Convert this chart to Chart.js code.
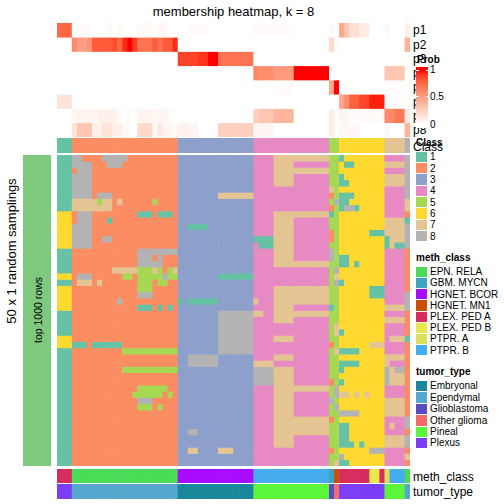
<!DOCTYPE html>
<html>
<head>
<meta charset="utf-8">
<title>membership heatmap, k = 8</title>
<script src="https://cdn.jsdelivr.net/npm/chart.js@4.4.1/dist/chart.umd.min.js"></script>
<style>
  html, body { margin: 0; padding: 0; background: #fff; }
  #page { position: relative; width: 504px; height: 504px; overflow: hidden; background: #fff;
          font-family: "Liberation Sans", Arial, Helvetica, sans-serif; color: #000; }
  #page canvas { position: absolute; display: block; }
  .txt { position: absolute; white-space: nowrap; line-height: 1; }
  .box { position: absolute; }
</style>
</head>
<body>
<div id="page">
  <canvas id="prob-heatmap" width="353" height="114" style="left:57px;top:23px"></canvas>
  <canvas id="class-bar" width="353" height="15" style="left:57px;top:138px"></canvas>
  <canvas id="member-heatmap" width="353" height="311" style="left:57px;top:155px"></canvas>
  <canvas id="meth-bar" width="353" height="14" style="left:57px;top:469px"></canvas>
  <canvas id="tumor-bar" width="353" height="15" style="left:57px;top:484px"></canvas>
</div>
<script>
// ---- data ----
var classNames = ['1', '2', '3', '4', '5', '6', '7', '8'];
var classColors = ['#66C2A5', '#FC8D62', '#8DA0CB', '#E78AC3', '#A6D854', '#FFD92F', '#E5C494', '#B3B3B3'];

var methClassNames = ['EPN. RELA', 'GBM. MYCN', 'HGNET. BCOR', 'HGNET. MN1', 'PLEX. PED A', 'PLEX. PED B', 'PTPR. A', 'PTPR. B'];
var methClassColors = ['#4ADB57', '#3FA3C0', '#A80CFF', '#C8500C', '#D62D5F', '#E8E84B', '#DAE05A', '#45ACEE'];

var tumorTypeNames = ['Embryonal', 'Ependymal', 'Glioblastoma', 'Other glioma', 'Pineal', 'Plexus'];
var tumorTypeColors = ['#1A879B', '#55A8CE', '#5A4BC3', '#F36B6B', '#5BF53A', '#7C3DF7'];

// one character per column (70 columns), spaces only group the classes
var columnClass = '111 222222222222222222222 333333333333333 444444444444444 55 666666666 7777 8';
var columnMeth  = '444 000000000000000000000 222222222222222 777777777777777 1 3 444444 55 4 6 777 0';
var columnTumor = '555 111111111111111111111 000000000000000 444444444444444 2 3 555555555 4444 1';

var probRowNames = ['p1', 'p2', 'p3', 'p4', 'p5', 'p6', 'p7', 'p8'];
var probP1 = [
  0.75, 0.75, 0.75, 0, 0.02, 0.02, 0.02, 0, 0, 0,
  0.03, 0, 0.03, 0, 0, 0, 0.03, 0.03, 0.03, 0,
  0.04, 0.04, 0, 0, 0, 0, 0.02, 0.02, 0.02, 0.02,
  0, 0, 0, 0, 0, 0, 0, 0, 0, 0.02,
  0.02, 0.02, 0.02, 0.02, 0.02, 0.02, 0.02, 0, 0, 0,
  0, 0, 0, 0, 0.03, 0, 0.45, 0.3, 0.17, 0.17,
  0.1, 0.1, 0, 0, 0, 0.03, 0, 0, 0, 0.08
];
var probP2 = [
  0, 0, 0, 0.6, 0.5, 0.5, 0.55, 0.8, 0.8, 0.8,
  0.8, 0.85, 0.75, 0.95, 1, 0.9, 0.7, 0.7, 0.7, 0.8,
  0.7, 0.8, 0.8, 0.95, 0, 0, 0, 0, 0, 0,
  0, 0, 0, 0, 0, 0, 0, 0, 0, 0,
  0, 0, 0, 0, 0, 0, 0, 0, 0, 0,
  0, 0, 0, 0, 0.2, 0.02, 0, 0, 0, 0,
  0, 0, 0, 0, 0, 0, 0, 0, 0, 0.4
];
var probP3 = [
  0, 0, 0, 0, 0, 0, 0, 0, 0, 0,
  0, 0, 0, 0, 0, 0, 0, 0, 0, 0,
  0, 0, 0, 0, 0.88, 0.88, 0.88, 0.88, 0.92, 0.92,
  1, 1, 0.7, 0.7, 0.7, 0.7, 0.7, 0.7, 0.7, 0,
  0, 0, 0, 0, 0, 0, 0, 0, 0, 0,
  0, 0, 0, 0, 0, 0, 0, 0, 0, 0,
  0, 0, 0, 0, 0, 0, 0, 0, 0, 0
];
var probP4 = [
  0, 0, 0, 0, 0, 0, 0, 0, 0, 0,
  0, 0, 0, 0, 0, 0, 0, 0, 0, 0,
  0, 0, 0, 0, 0, 0, 0, 0, 0, 0,
  0, 0, 0, 0, 0, 0, 0, 0, 0, 0.62,
  0.58, 0.58, 0.58, 0.52, 0.52, 0.52, 0.52, 1, 1, 1,
  1, 1, 1, 1, 0, 0, 0, 0, 0, 0,
  0, 0, 0, 0, 0, 0.3, 0.3, 0.3, 0.3, 0
];
var probP5 = [
  0, 0, 0, 0, 0, 0, 0, 0, 0, 0,
  0, 0, 0, 0, 0, 0, 0, 0, 0, 0,
  0, 0, 0, 0, 0, 0, 0, 0, 0, 0,
  0, 0, 0, 0, 0, 0, 0, 0, 0, 0,
  0, 0, 0, 0.02, 0.02, 0.02, 0.02, 0, 0, 0,
  0, 0, 0, 0, 0.45, 1, 0, 0, 0, 0,
  0, 0, 0, 0, 0, 0, 0, 0.02, 0, 0
];
var probP6 = [
  0.15, 0.15, 0.15, 0, 0, 0, 0, 0, 0, 0,
  0, 0, 0, 0, 0, 0, 0, 0, 0, 0,
  0, 0, 0, 0, 0, 0, 0, 0, 0, 0,
  0, 0, 0, 0, 0, 0, 0, 0, 0, 0,
  0, 0, 0, 0, 0, 0, 0, 0, 0, 0,
  0, 0, 0, 0, 0, 0, 0.45, 0.6, 0.78, 0.78,
  0.88, 0.88, 0.97, 0.97, 0.97, 0, 0, 0, 0, 0
];
var probP7 = [
  0, 0, 0, 0.05, 0.06, 0.06, 0.06, 0.04, 0.08, 0.08,
  0.08, 0.08, 0.02, 0, 0.03, 0, 0.06, 0.06, 0.06, 0.04,
  0.05, 0.05, 0.02, 0, 0, 0, 0, 0, 0, 0,
  0, 0, 0, 0, 0, 0, 0, 0, 0, 0.25,
  0.3, 0.3, 0.3, 0.38, 0.38, 0.38, 0.38, 0, 0, 0,
  0, 0, 0, 0, 0.1, 0, 0.05, 0.05, 0.02, 0.02,
  0.02, 0.03, 0.03, 0.03, 0.03, 0.6, 0.6, 0.68, 0.68, 0.1
];
var probP8 = [
  0, 0, 0, 0.15, 0.3, 0.3, 0.3, 0.08, 0.08, 0.15,
  0.15, 0.08, 0.08, 0.04, 0.02, 0, 0.2, 0.2, 0.2, 0.03,
  0.12, 0.05, 0.05, 0.03, 0.05, 0.08, 0.05, 0.05, 0, 0,
  0, 0, 0.25, 0.25, 0.25, 0.25, 0.25, 0.25, 0.25, 0.05,
  0.05, 0.05, 0.05, 0, 0, 0, 0, 0, 0, 0,
  0, 0, 0, 0, 0.1, 0, 0.04, 0.04, 0.04, 0.04,
  0, 0, 0, 0, 0, 0.03, 0, 0, 0, 0.4
];

// class assigned in each of the 50 random samplings (top 1000 rows), one char per column
var samplingRows = [
  '111 882222888882222222222 333333333333333 444477777777777 55 166666666 4444 8',
  '111 888822288822222222222 333333333333333 444477774444444 55 611666666 7777 8',
  '111 288822222222222222222 333333333333333 444477777777777 55 666666666 4444 8',
  '111 888822222222222222222 333333333333333 444477774444444 55 166666666 7777 8',
  '111 888822222222222222222 333333333333333 444477774444444 55 116666666 7777 8',
  '111 888822222222222222222 333333333333333 444444444444444 75 666666666 4444 8',
  '111 888828882222222222222 333333337777777 444444444444444 25 111666666 4444 8',
  '111 777775772722222252222 333333333333333 444444444444444 58 116666666 4444 7',
  '111 777777772222222222222 333333333333333 444444444444444 25 188166666 4444 7',
  '666 288822222222211121112 333333333333333 444477777777777 15 666666666 4444 2',
  '666 288822212222222222222 333333333333333 444477774444444 55 666666666 7777 1',
  '666 888822222222222222222 331111333333333 444477774444444 55 666666666 7777 8',
  '666 888822222222222222222 333333333333333 444477774444444 25 666666111 7777 8',
  '666 888822882222222222222 333333333333333 111177774444444 25 666666666 1777 8',
  '666 888822222222222222222 333333333333333 411177774444444 55 666666666 1711 8',
  '111 222222222222288888888 333333333333333 444477774444444 85 666666666 4444 2',
  '111 222222222222288828222 333333333333333 444477774444444 85 116666666 4444 2',
  '111 222222222222288888222 333333333333333 444477777777777 55 116166666 4444 2',
  '111 222222227777755575257 333333333333333 444444444444444 58 666666666 4444 2',
  '666 288822222255255555855 333333331111111 444444444444444 57 666666666 4444 2',
  '111 277727222222255525522 333333333333333 444444444444444 58 166666666 4444 2',
  '666 222222222222255522222 333333333333333 444477777777777 55 666666111 4444 2',
  '666 222222222222288822222 333333333333333 444477777777777 55 666666111 4444 8',
  '666 222222222822222222222 131111113333333 744477777777777 55 666666666 4444 8',
  '666 222222222222211121212 333333333333333 444477774444444 15 666666666 7777 8',
  '111 222222222222222222222 333333338888888 774477777777777 55 666666666 4444 2',
  '111 222222222222222222222 333333338888888 444477774444444 55 666666666 7777 2',
  '111 222222222222222222222 333333338888888 444444444444444 57 666666666 4444 2',
  '111 222222222222222222222 333333338888888 444444444444444 57 166666666 4444 2',
  '666 222222222222222222222 333333338888888 444477774444444 55 666666666 4777 1',
  '666 111211111122222222222 333333338888888 444444444444444 25 666666777 4444 2',
  '111 222222222255555555555 333333338888888 444444444444444 57 111166666 4444 2',
  '111 222222222222222222222 338888883333333 444477774444444 55 666666666 7777 2',
  '111 222222222222222222222 338888883333333 777744444444444 55 111166666 7444 2',
  '111 222222222255555555555 333333333333333 888877774444444 55 166666666 8788 2',
  '111 222222222222222222222 333333333333333 888877774444444 55 666666666 8777 2',
  '111 222222222222222222222 333333333333333 888877774444444 25 166666666 8777 2',
  '111 222222222222255555522 333333333333333 444477777777777 58 666666666 4444 2',
  '111 222222222222555555252 333333333333333 444477774444444 58 776767666 4444 2',
  '111 222222222222288822222 333333333333333 444477774444444 85 666666666 7777 2',
  '111 222222222222255525222 333333333333333 444477774444444 58 666666666 7777 2',
  '111 222222222222222222222 333333333333333 444477774444444 55 888866666 7777 2',
  '111 222222222222222222222 333333333333333 444477777777777 25 666666666 4444 8',
  '111 222222222222222222222 333333333333333 444477777777777 55 116666666 4744 8',
  '111 222222222222222222222 338833333333333 444477777777777 55 116666666 4444 2',
  '111 222222222222222222222 333333333333333 444477774444444 55 116666666 7777 8',
  '111 222222222222222222222 333333333333333 444477774444444 55 111616666 7777 8',
  '111 222222222222222222222 337733337773333 444444444444444 25 666666888 4444 2',
  '111 222222222222222222222 333333333333333 444444444444444 55 866666666 4444 7',
  '111 222222222222222222222 333333333333333 444444444444444 57 116666666 4444 2'
];

(function () {
  function codes(str) {
    var out = str.replace(/ /g, '').split('').map(Number);
    if (out.length !== 70) console.warn('[membership] bad row length', out.length, str);
    return out;
  }

  // white -> red, interpolated in LAB like colorRamp2
  function probColor(v) {
    var L = 100 + (53.24 - 100) * v, A = 80.09 * v, B = 67.2 * v;
    var fy = (L + 16) / 116, fx = fy + A / 500, fz = fy - B / 200;
    function finv(t) { var t3 = t * t * t; return t3 > 0.008856 ? t3 : (t - 16 / 116) / 7.787; }
    var X = 0.95047 * finv(fx), Y = finv(fy), Z = 1.08883 * finv(fz);
    var lin = [
      3.2406 * X - 1.5372 * Y - 0.4986 * Z,
      -0.9689 * X + 1.8758 * Y + 0.0415 * Z,
      0.0557 * X - 0.2040 * Y + 1.0570 * Z
    ];
    var rgb = lin.map(function (c) {
      c = c <= 0.0031308 ? 12.92 * c : 1.055 * Math.pow(c, 1 / 2.4) - 0.055;
      return Math.round(Math.max(0, Math.min(1, c)) * 255);
    });
    return 'rgb(' + rgb.join(',') + ')';
  }

  var classCodes = codes(columnClass);
  var methCodes = codes(columnMeth);
  var tumorCodes = codes(columnTumor);
  var sampleLabels = classCodes.map(function (_c, i) { return 'S' + (i + 1); });

  function drawGrid(canvasId, rowColors) {
    var canvasEl = document.getElementById(canvasId);
    var ctx = canvasEl.getContext('2d');
    var nRows = rowColors.length;
    new Chart(ctx, {
      type: 'bar',
      data: {
        labels: sampleLabels,
        datasets: rowColors.map(function (colors, r) {
          return {
            data: sampleLabels.map(function () { return [r, r + 1]; }),
            backgroundColor: colors,
            borderWidth: 0,
            borderSkipped: false,
            grouped: false,
            categoryPercentage: 1,
            barPercentage: 1
          };
        })
      },
      options: {
        responsive: false,
        animation: false,
        devicePixelRatio: 1,
        events: [],
        layout: { padding: 0 },
        plugins: { legend: { display: false }, tooltip: { enabled: false } },
        scales: {
          x: { display: false },
          y: { display: false, min: 0, max: nRows, reverse: true }
        }
      }
    });
  }

  var probRows = [probP1, probP2, probP3, probP4, probP5, probP6, probP7, probP8];
  drawGrid('prob-heatmap', probRows.map(function (row) { return row.map(probColor); }));
  drawGrid('class-bar', [classCodes.map(function (c) { return classColors[c - 1]; })]);
  drawGrid('member-heatmap', samplingRows.map(function (s) {
    return codes(s).map(function (c) { return classColors[c - 1]; });
  }));
  drawGrid('meth-bar', [methCodes.map(function (c) { return methClassColors[c]; })]);
  drawGrid('tumor-bar', [tumorCodes.map(function (c) { return tumorTypeColors[c]; })]);

  // ---- text, side bar and legends ----
  var page = document.getElementById('page');
  function addText(text, x, y, opts) {
    opts = opts || {};
    var el = document.createElement('div');
    el.className = 'txt';
    el.textContent = text;
    el.style.left = x + 'px';
    el.style.top = y + 'px';
    el.style.fontSize = (opts.size || 12) + 'px';
    if (opts.bold) el.style.fontWeight = 'bold';
    var tx = opts.center ? '-50%' : '0';
    el.style.transform = 'translate(' + tx + ',-50%)' + (opts.rotate ? ' rotate(' + opts.rotate + 'deg)' : '');
    page.appendChild(el);
    return el;
  }
  function addBox(x, y, w, h, bg) {
    var el = document.createElement('div');
    el.className = 'box';
    el.style.left = x + 'px';
    el.style.top = y + 'px';
    el.style.width = w + 'px';
    el.style.height = h + 'px';
    el.style.background = bg;
    page.appendChild(el);
    return el;
  }

  addText('membership heatmap, k = 8', 233.5, 11, { size: 13, center: true });
  addText('50 x 1 random samplings', 10.5, 251, { size: 13, center: true, rotate: -90 });
  addBox(23, 155, 28, 311, '#7FC97F');
  addText('top 1000 rows', 38, 310, { size: 10.5, center: true, rotate: -90 });

  probRowNames.forEach(function (name, i) {
    addText(name, 413, 30.4 + i * 14.25, { size: 12 });
  });
  addText('Class', 413, 146.5, { size: 12 });
  addText('meth_class', 413, 476.5, { size: 12 });
  addText('tumor_type', 413, 491.5, { size: 12 });

  // Prob colour key
  addBox(415.5, 66, 60, 61.5, '#fff');
  addText('Prob', 417, 59.5, { size: 10, bold: true });
  var stops = [];
  for (var s = 0; s <= 10; s++) {
    var v = 1 - s / 10;
    stops.push(probColor(v) + ' ' + (5 + s * 9.5).toFixed(1) + '%');
  }
  addBox(416, 67, 12, 57, 'linear-gradient(to bottom, rgb(255,0,0) 0%, ' + stops.join(', ') + ')');
  [70, 96.7].forEach(function (ty) {
    addBox(416, ty - 0.5, 2.5, 1, '#fff');
    addBox(425.5, ty - 0.5, 2.5, 1, '#fff');
  });
  addText('1', 430, 70, { size: 10 });
  addText('0.5', 430, 97, { size: 10 });
  addText('0', 430, 124.5, { size: 10 });

  // Class key
  addText('Class', 416, 142.5, { size: 10, bold: true });
  classNames.forEach(function (name, i) {
    var top = 151.7 + i * 11.33;
    addBox(416, top, 11, 10.3, classColors[i]);
    addText(name, 430, top + 5.5, { size: 10 });
  });

  // meth_class key
  addText('meth_class', 416, 258, { size: 10, bold: true });
  methClassNames.forEach(function (name, i) {
    var top = 266.8 + i * 11.2;
    addBox(416, top, 11, 10.2, methClassColors[i]);
    addText(name, 430, top + 5.3, { size: 10 });
  });

  // tumor_type key
  addText('tumor_type', 416, 371.5, { size: 10, bold: true });
  tumorTypeNames.forEach(function (name, i) {
    var top = 380.8 + i * 11.45;
    addBox(416, top, 11, 10.4, tumorTypeColors[i]);
    addText(name, 430, top + 5.4, { size: 10 });
  });
})();
</script>
</body>
</html>
